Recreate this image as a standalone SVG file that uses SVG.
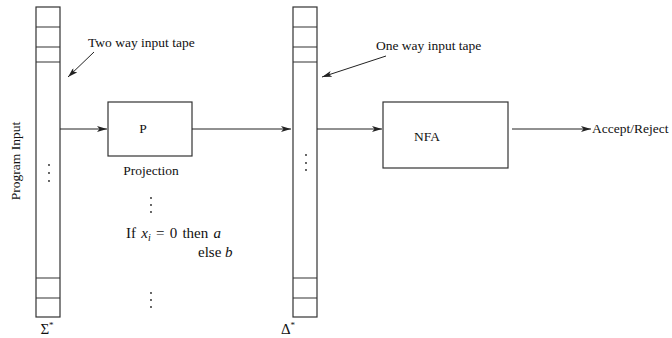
<svg xmlns="http://www.w3.org/2000/svg" width="672" height="338" viewBox="0 0 672 338" font-family="'Liberation Serif', 'DejaVu Serif', serif">
<style>
.s{fill:none;stroke:#333;stroke-width:1.2}
.c{fill:none;stroke:#222;stroke-width:1}
text{font-family:'Liberation Serif','DejaVu Serif',serif;font-size:13.5px;fill:#111}
.m{font-size:15px}
.i{font-style:italic}
.d{fill:#222}
</style>
<defs>
<marker id="ah" viewBox="0 0 10 6" refX="10" refY="3" markerWidth="10" markerHeight="6" markerUnits="userSpaceOnUse" orient="auto">
<path d="M0,0 L10,3 L0,6 L2.5,3 z" fill="#222"/>
</marker>
</defs>
<g id="tape1">
<rect class="s" x="36" y="7" width="24" height="310"/>
<path class="s" d="M36,27H60M36,47H60M36,62H60M36,278H60M36,298H60"/>
<circle class="d" cx="49" cy="165" r="0.9"/><circle class="d" cx="49" cy="173" r="0.9"/><circle class="d" cx="49" cy="181" r="0.9"/>
<text class="m" x="47" y="334" text-anchor="middle">Σ<tspan font-size="9" dy="-6">*</tspan></text>
</g>
<g id="label-program-input">
<text transform="translate(20,161) rotate(-90)" text-anchor="middle" font-size="16">Program Input</text>
</g>
<g id="label-two-way">
<text x="88" y="47">Two way input tape</text>
</g>
<g id="box-P">
<rect class="s" x="108" y="102" width="84" height="54"/>
<text x="143" y="133" text-anchor="middle">P</text>
<text x="151" y="175" text-anchor="middle">Projection</text>
</g>
<g id="notes">
<circle class="d" cx="151" cy="198" r="0.9"/><circle class="d" cx="151" cy="205" r="0.9"/><circle class="d" cx="151" cy="212" r="0.9"/>
<text class="m" x="126" y="238" word-spacing="1.5">If <tspan class="i">x</tspan><tspan class="i" font-size="10" dy="3">i</tspan><tspan dy="-3"> = 0 then </tspan><tspan class="i">a</tspan></text>
<text class="m" x="198" y="257">else <tspan class="i">b</tspan></text>
<circle class="d" cx="151" cy="293" r="0.9"/><circle class="d" cx="151" cy="300" r="0.9"/><circle class="d" cx="151" cy="307" r="0.9"/>
</g>
<g id="tape2">
<rect class="s" x="293" y="7" width="24" height="310"/>
<path class="s" d="M293,27H317M293,47H317M293,62H317M293,278H317M293,298H317"/>
<circle class="d" cx="306" cy="155" r="0.9"/><circle class="d" cx="306" cy="163" r="0.9"/><circle class="d" cx="306" cy="170" r="0.9"/>
<text class="m" x="288" y="334" text-anchor="middle">Δ<tspan font-size="9" dy="-6">*</tspan></text>
</g>
<g id="label-one-way">
<text x="376" y="50">One way input tape</text>
</g>
<g id="box-NFA">
<rect class="s" x="383" y="102" width="125" height="66"/>
<text x="427" y="141" text-anchor="middle">NFA</text>
</g>
<g id="label-accept">
<text x="592" y="133">Accept/Reject</text>
</g>
<g id="connectors">
<line class="c" x1="60" y1="129" x2="107" y2="129" marker-end="url(#ah)"/>
<line class="c" x1="192" y1="129" x2="291" y2="129" marker-end="url(#ah)"/>
<line class="c" x1="317" y1="129" x2="382" y2="129" marker-end="url(#ah)"/>
<line class="c" x1="512" y1="129" x2="591" y2="129" marker-end="url(#ah)"/>
<line class="c" x1="94" y1="52" x2="68" y2="77" marker-end="url(#ah)"/>
<line class="c" x1="386" y1="56" x2="322" y2="77" marker-end="url(#ah)"/>
</g>
</svg>
